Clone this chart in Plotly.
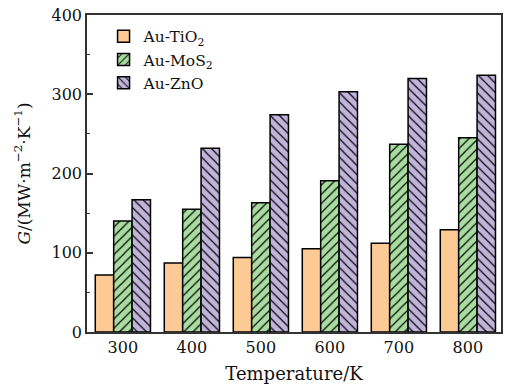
import plotly.graph_objects as go

temps = ["300", "400", "500", "600", "700", "800"]
tio2 = [72, 87, 94, 105, 112, 129]
mos2 = [140, 155, 163, 191, 237, 245]
zno = [167, 232, 274, 303, 320, 324]
names = ["Au-TiO<sub>2</sub>", "Au-MoS<sub>2</sub>", "Au-ZnO"]
colors = ["#FDC994", "#A8DCA0", "#C0B4DA"]
shapes = ["", "/", "\\"]

font = "DejaVu Serif"
fig = go.Figure()
for vals, name, col, sh in zip([tio2, mos2, zno], names, colors, shapes):
    fig.add_trace(go.Bar(
        x=temps, y=vals, name=name,
        marker=dict(color=col, line=dict(color="black", width=1.5),
                    pattern=dict(shape=sh, fgcolor="black", bgcolor=col,
                                 size=6.5, solidity=0.18, fillmode="replace")),
    ))

fig.update_layout(
    width=505, height=385,
    margin=dict(l=87, r=2, t=15, b=53),
    paper_bgcolor="white", plot_bgcolor="white",
    barmode="group", bargap=0.2, bargroupgap=0,
    font=dict(family=font, size=16, color="#111"),
    legend=dict(x=0.04, y=0.985, xanchor="left", yanchor="top",
                bgcolor="rgba(0,0,0,0)", font=dict(size=15.5),
                tracegroupgap=0, itemwidth=30),
    showlegend=True,
)
fig.update_xaxes(
    type="category", range=[-0.52, 5.48],
    showline=True, linecolor="#333", linewidth=1.5, mirror=True,
    ticks="", showgrid=False,
    title=dict(text="Temperature/K", font=dict(size=18), standoff=11),
    tickfont=dict(size=16),
)
fig.update_yaxes(
    range=[0, 400], tickvals=[0, 100, 200, 300, 400],
    showline=True, linecolor="#333", linewidth=1.5, mirror=True,
    ticks="inside", ticklen=6, tickwidth=1.5, tickcolor="#333",
    minor=dict(tickvals=[50, 150, 250, 350], ticks="inside", ticklen=3,
               tickwidth=1.2, tickcolor="#333"),
    showgrid=False, zeroline=False,
    title=dict(text="<i>G</i>/(MW·m<sup>−2</sup>·K<sup>−1</sup>)", font=dict(size=17), standoff=17),
    tickfont=dict(size=16),
)

fig.write_html("out.html")
